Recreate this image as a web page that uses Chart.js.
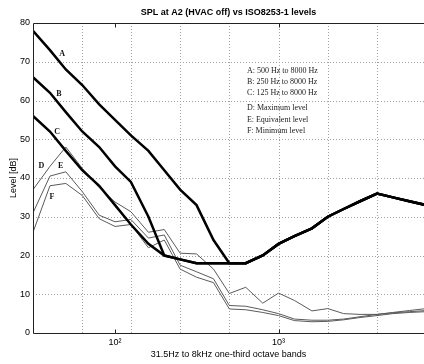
<!DOCTYPE html>
<html>
<head>
<script src="https://cdn.jsdelivr.net/npm/chart.js@4.4.0/dist/chart.umd.min.js"></script>
<style>body{margin:0;background:#fff}</style>
</head>
<body>
<canvas id="splChart" width="424" height="364"></canvas>
<script>
// one-third octave band centres
var freqs = [31.5,40,50,63,80,100,125,160,200,250,315,400,500,630,800,1000,1250,1600,2000,2500,3150,4000,5000,6300,8000];

// ISO 8253-1 max permissible ambient levels
var isoA = [78,73,68,64,59,55,51,47,42,37,33,24,18,18,20,23,25,27,30,32,34,36,35,34,33];
var isoB = [66,62,57,52,48,43,39,30,20,19,18,18,18,18,20,23,25,27,30,32,34,36,35,34,33];
var isoC = [56,52,47,42,38,33,28,23,20,19,18,18,18,18,20,23,25,27,30,32,34,36,35,34,33];

// measured at A2, HVAC off
var maxLevel = [37,43,48,42.5,37.5,33.8,31.3,26,26.7,20.6,20.4,16.5,10.2,11.8,7.7,10.3,8.4,5.7,6.3,5.0,4.8,4.8,5.3,5.8,6.3];
var eqLevel  = [31,40.5,41.6,36.5,30.4,28.7,29.3,24.5,25.3,17.5,15.8,14,7.1,6.9,6.0,5.0,3.6,3.3,3.3,3.6,4.2,4.8,5.2,5.5,5.8];
var minLevel = [26,38,38.6,35.5,29.5,27.5,28,22,24,16.5,14.4,13,6.2,6.0,5.3,4.5,3.2,2.9,3.0,3.4,4.0,4.5,5.0,5.3,5.5];

var xTickValues = [100, 1000];
var xTickLabels = ['10\u00B2', '10\u00B3'];
var gridFreqs = [63,125,250,500,1000,2000,4000];
var gridDb = [10,20,30,40,50,60,70];

// curve letters, placed in data units
var curveLetters = ['A','B','C','D','E','F'];
var letterFreq = [47.4,45.3,44.2,35.5,46.5,41.2];
var letterDb = [71.9,61.8,51.9,43.1,43.1,35.1];

var noteLines = ['A: 500 Hz to 8000 Hz','B: 250 Hz to 8000 Hz','C: 125 Hz to 8000 Hz','D: Maximum level','E: Equivalent level','F: Minimum level'];
var noteFreq = 640;
var noteDb = [67.6,64.7,61.9,58.0,55.0,52.1];

function pts(vals){
  var out=[];
  for(var i=0;i<freqs.length;i++) out.push({x:freqs[i], y:vals[i]});
  return out;
}

var extras = {
  id: 'extras',
  beforeDatasetsDraw: function(chart){
    var ctx = chart.ctx, a = chart.chartArea, sx = chart.scales.x, sy = chart.scales.y;
    ctx.save();
    ctx.strokeStyle = '#a0a0a0';
    ctx.lineWidth = 1;
    ctx.setLineDash([1,2]);
    gridFreqs.forEach(function(f){
      var px = Math.round(sx.getPixelForValue(f))+0.5;
      ctx.beginPath(); ctx.moveTo(px,a.top); ctx.lineTo(px,a.bottom); ctx.stroke();
    });
    gridDb.forEach(function(d){
      var py = Math.round(sy.getPixelForValue(d))+0.5;
      ctx.beginPath(); ctx.moveTo(a.left,py); ctx.lineTo(a.right,py); ctx.stroke();
    });
    ctx.restore();
  },
  afterDraw: function(chart){
    var ctx = chart.ctx, a = chart.chartArea, sx = chart.scales.x, sy = chart.scales.y;
    ctx.save();
    ctx.strokeStyle = '#222';
    ctx.lineWidth = 1;
    var l = Math.round(a.left)+0.5, t = Math.round(a.top)+0.5, b = Math.round(a.bottom)+0.5;
    ctx.beginPath();
    ctx.moveTo(a.right,t); ctx.lineTo(l,t); ctx.lineTo(l,b); ctx.lineTo(a.right,b);
    ctx.stroke();
    xTickValues.forEach(function(v){
      var px = Math.round(sx.getPixelForValue(v))+0.5;
      ctx.beginPath();
      ctx.moveTo(px,t); ctx.lineTo(px,t+4);
      ctx.moveTo(px,b); ctx.lineTo(px,b-4);
      ctx.stroke();
    });
    // title
    ctx.fillStyle = '#000';
    ctx.font = 'bold 9px "Liberation Sans", Arial, sans-serif';
    ctx.textAlign = 'center';
    ctx.textBaseline = 'middle';
    ctx.fillText('SPL at A2 (HVAC off) vs ISO8253-1 levels', (a.left+a.right)/2, 13);
    // curve letters
    ctx.font = 'bold 8px "Liberation Serif", "Times New Roman", serif';
    ctx.fillStyle = '#111';
    for(var i=0;i<curveLetters.length;i++){
      ctx.fillText(curveLetters[i], sx.getPixelForValue(letterFreq[i]), sy.getPixelForValue(letterDb[i]));
    }
    // notes
    ctx.font = '8px "Liberation Serif", "Times New Roman", serif';
    ctx.textAlign = 'left';
    ctx.fillStyle = '#222';
    for(var j=0;j<noteLines.length;j++){
      ctx.fillText(noteLines[j], sx.getPixelForValue(noteFreq), sy.getPixelForValue(noteDb[j]));
    }
    ctx.restore();
  }
};

var thick = {borderColor:'#000', borderWidth:2.5, pointRadius:0, fill:false, tension:0};
var thin = {borderColor:'#5a5a5a', borderWidth:1, pointRadius:0, fill:false, tension:0};

new Chart('splChart', {
  type: 'line',
  data: {
    datasets: [
      Object.assign({label:'A', data:pts(isoA)}, thick),
      Object.assign({label:'B', data:pts(isoB)}, thick),
      Object.assign({label:'C', data:pts(isoC)}, thick),
      Object.assign({label:'D', data:pts(maxLevel)}, thin),
      Object.assign({label:'E', data:pts(eqLevel)}, thin),
      Object.assign({label:'F', data:pts(minLevel)}, thin)
    ]
  },
  options: {
    responsive: false,
    animation: false,
    layout: {padding: {top: 23, right: 0, left: 0, bottom: 0}},
    plugins: {legend: {display: false}, tooltip: {enabled: false}},
    scales: {
      x: {
        type: 'logarithmic',
        min: 31.5,
        max: 7750,
        afterBuildTicks: function(s){ s.ticks = xTickValues.map(function(v){ return {value:v}; }); },
        afterFit: function(s){ s.height = 31; },
        grid: {display: false, drawTicks: false},
        border: {display: false},
        ticks: {
          autoSkip: false, maxRotation: 0, padding: 4, color: '#000',
          font: {family: '"Liberation Sans", Arial, sans-serif', size: 9},
          callback: function(v){ var k = xTickValues.indexOf(v); return k < 0 ? '' : xTickLabels[k]; }
        },
        title: {display: true, text: '31.5Hz to 8kHz one-third octave bands', color: '#000',
          font: {family: '"Liberation Sans", Arial, sans-serif', size: 9}, padding: {top: 3, bottom: 4}}
      },
      y: {
        min: 0,
        max: 80,
        afterFit: function(s){ s.width = 33; },
        grid: {display: false, drawTicks: false},
        border: {display: false},
        ticks: {stepSize: 10, padding: 3, color: '#000',
          font: {family: '"Liberation Sans", Arial, sans-serif', size: 9}},
        title: {display: true, text: 'Level [dB]', color: '#000',
          font: {family: '"Liberation Sans", Arial, sans-serif', size: 9}, padding: {top: 8, bottom: 4}}
      }
    }
  },
  plugins: [extras]
});
</script>
</body>
</html>
